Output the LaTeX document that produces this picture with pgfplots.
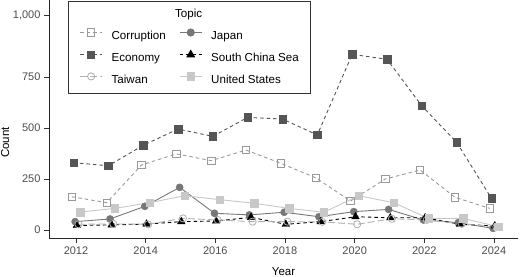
\documentclass[border=0pt]{standalone}
\usepackage{fontspec}
\setmainfont{Liberation Sans}
\usepackage{pgfplots}
\usepackage{pgfplotstable}
\pgfplotsset{compat=1.18}
\definecolor{cCor}{HTML}{9A9A9A}
\definecolor{cEco}{HTML}{555555}
\definecolor{cJap}{HTML}{777777}
\definecolor{cSCS}{HTML}{000000}
\definecolor{cTai}{HTML}{B0B0B0}
\definecolor{cUSA}{HTML}{C8C8C8}
\definecolor{tickgrey}{HTML}{4D4D4D}
\pgfplotstableread{
year cor eco jap scs tai usa
2012 163 330 41 22 28 88
2013 134 315 54 25 30 106
2014 319 415 116 29 28 134
2015 373 495 209 41 57 168
2016 340 459 82 44 49 149
2017 392 552 74 62 41 131
2018 327 544 87 28 41 106
2019 256 466 65 41 40 87
2020 142 861 90 65 28 168
2021 250 837 101 60 55 134
2022 294 608 49 60 50 57
2023 160 430 36 28 30 57
2024 106 155 8 20 15 16
}\data
\begin{document}
\begin{tikzpicture}
\path[use as bounding box] (0,0) rectangle (520bp,277bp);
\begin{axis}[
 at={(49bp,39bp)}, anchor=south west,
 scale only axis, width=469bp, height=238bp,
 xmin=2011.225, xmax=2024.69, ymin=-39.2, ymax=1127.5,
 axis x line*=bottom, axis y line*=left,
 axis line style={-, line width=0.9bp, color=black!85},
 xtick={2012,2014,...,2024},
 ytick={0,250,500,750,1054}, yticklabels={0,250,500,750,{1,000}},
 tick align=outside, major tick length=5bp,
 tick style={line width=0.9bp, color=black!80},
 ticklabel style={font=\fontsize{11bp}{12bp}\selectfont, text=tickgrey},
 /pgf/number format/assume math mode=true,
 xticklabel style={/pgf/number format/1000 sep={}},
 xlabel={Year}, ylabel={Count},
 label style={font=\fontsize{11.5bp}{13bp}\selectfont},
 xlabel style={at={(axis description cs:0.5,-0.143)}, anchor=center},
 ylabel style={at={(axis description cs:-0.0935,0.401)}, anchor=center},
 legend columns=2, legend cell align=left,
 legend image code/.code={\draw[mark repeat=2,mark phase=2] plot coordinates {(0bp,3.9bp)(11bp,3.9bp)(22bp,3.9bp)};},
 legend style={at={(axis description cs:0.0655,0.879)}, anchor=north west,
   draw=none, fill=none, inner sep=0pt, outer sep=0pt,
   font=\fontsize{11.6bp}{13bp}\selectfont, row sep=8.5bp,
   nodes={inner sep=0pt, text height=8.5bp, text depth=2.5bp},
   /tikz/every odd column/.append style={column sep=9bp},
   /tikz/every even column/.append style={column sep=13.5bp}},
]
% lines
\addplot[forget plot, cCor, line width=0.9bp, dash pattern=on 3.5bp off 3bp] table[x expr=\thisrow{year}-0.118, y=cor]{\data};
\addplot[forget plot, cEco, line width=0.9bp, dash pattern=on 3.5bp off 3bp] table[x expr=\thisrow{year}-0.071, y=eco]{\data};
\addplot[forget plot, cJap, line width=0.9bp] table[x expr=\thisrow{year}-0.024, y=jap]{\data};
\addplot[forget plot, cSCS, line width=0.9bp, dash pattern=on 3.5bp off 3bp] table[x expr=\thisrow{year}+0.024, y=scs]{\data};
\addplot[forget plot, cTai, line width=0.9bp, dash pattern=on 7bp off 3bp] table[x expr=\thisrow{year}+0.071, y=tai]{\data};
\addplot[forget plot, cUSA, line width=0.9bp] table[x expr=\thisrow{year}+0.118, y=usa]{\data};
% points
\addplot[forget plot, only marks, mark=square, mark size=3.7bp, mark options={draw=cCor, line width=0.8bp}] table[x expr=\thisrow{year}-0.118, y=cor]{\data};
\addplot[forget plot, only marks, mark=square*, mark size=3.7bp, mark options={draw=cEco, fill=cEco}] table[x expr=\thisrow{year}-0.071, y=eco]{\data};
\addplot[forget plot, only marks, mark=*, mark size=3.6bp, mark options={draw=cJap, fill=cJap}] table[x expr=\thisrow{year}-0.024, y=jap]{\data};
\addplot[forget plot, only marks, mark=triangle*, mark size=4.4bp, mark options={draw=cSCS, fill=cSCS}] table[x expr=\thisrow{year}+0.024, y=scs]{\data};
\addplot[forget plot, only marks, mark=o, mark size=3.6bp, mark options={draw=cTai, line width=0.8bp}] table[x expr=\thisrow{year}+0.071, y=tai]{\data};
\addplot[forget plot, only marks, mark=square*, mark size=3.7bp, mark options={draw=cUSA, fill=cUSA}] table[x expr=\thisrow{year}+0.118, y=usa]{\data};
% legend
\addlegendimage{cCor, line width=0.9bp, dash pattern=on 3.5bp off 3bp, mark=square, mark size=3.7bp, mark options={solid}}
\addlegendentry{Corruption}
\addlegendimage{cJap, line width=0.9bp, mark=*, mark size=3.6bp}
\addlegendentry{Japan}
\addlegendimage{cEco, line width=0.9bp, dash pattern=on 3.5bp off 3bp, mark=square*, mark size=3.7bp, mark options={solid}}
\addlegendentry{Economy}
\addlegendimage{cSCS, line width=0.9bp, dash pattern=on 3.5bp off 3bp, mark=triangle*, mark size=4.4bp, mark options={solid}}
\addlegendentry{South China Sea}
\addlegendimage{cTai, line width=0.9bp, dash pattern=on 7bp off 3bp, mark=o, mark size=3.6bp, mark options={solid}}
\addlegendentry{Taiwan}
\addlegendimage{cUSA, line width=0.9bp, mark=square*, mark size=3.7bp}
\addlegendentry{United States}
\draw[black!80, line width=0.9bp] (axis description cs:0.0405,0.9958) rectangle (axis description cs:0.5565,0.6092);
\node[font=\fontsize{11.6bp}{13bp}\selectfont, anchor=base, inner sep=0pt] at (axis description cs:0.2979,0.9256) {Topic};
\end{axis}
\end{tikzpicture}
\end{document}
